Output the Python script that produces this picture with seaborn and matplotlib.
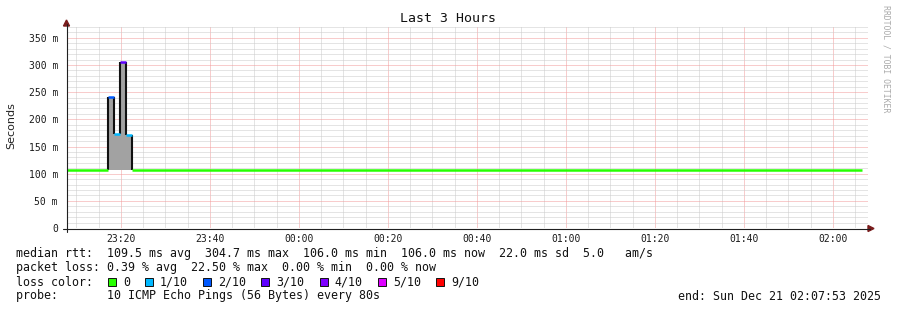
import matplotlib
matplotlib.use("Agg")
import matplotlib.pyplot as plt
from matplotlib.patches import Rectangle, Polygon
from matplotlib.lines import Line2D
from matplotlib.ticker import FixedLocator
import matplotlib.dates as mdates
import pandas as pd
import seaborn as sns

# ---------------- data ----------------
window = ["2025-12-20 23:07:53", "2025-12-21 02:07:53"]
# boundaries of the 80 s steps of the median rtt line
step_edges = ["2025-12-20 23:07:53", "2025-12-20 23:17:10", "2025-12-20 23:18:30",
              "2025-12-20 23:19:50", "2025-12-20 23:21:10", "2025-12-20 23:22:30",
              "2025-12-21 02:06:30"]
median_rtt_ms = [106.0, 242.0, 173.0, 304.7, 172.0, 106.0]
loss_of_ten = [0, 2, 1, 3, 1, 0]
smoke_low_ms = [106.0, 106.0, 106.0, 106.0, 106.0, 106.0]
smoke_high_ms = [106.0, 242.0, 173.0, 304.7, 172.0, 106.0]

loss_labels = ["0", "1/10", "2/10", "3/10", "4/10", "5/10", "9/10"]
loss_values = [0, 1, 2, 3, 4, 5, 9]
loss_colors = ["#26ff00", "#00b8ff", "#0059ff", "#5e00ff", "#7e00ff", "#dd00ff", "#ff0000"]

y_ticks = [0, 50, 100, 150, 200, 250, 300, 350]
y_tick_labels = ["0", "50 m", "100 m", "150 m", "200 m", "250 m", "300 m", "350 m"]
x_ticks = ["2025-12-20 23:20", "2025-12-20 23:40", "2025-12-21 00:00", "2025-12-21 00:20",
           "2025-12-21 00:40", "2025-12-21 01:00", "2025-12-21 01:20", "2025-12-21 01:40",
           "2025-12-21 02:00"]
x_tick_labels = ["23:20", "23:40", "00:00", "00:20", "00:40", "01:00", "01:20", "01:40", "02:00"]

title = "Last 3 Hours"
y_label = "Seconds"
rtt_line = "median rtt:  109.5 ms avg  304.7 ms max  106.0 ms min  106.0 ms now  22.0 ms sd  5.0   am/s"
loss_line = "packet loss: 0.39 % avg  22.50 % max  0.00 % min  0.00 % now"
probe_line = "probe:       10 ICMP Echo Pings (56 Bytes) every 80s"
end_text = "end: Sun Dec 21 02:07:53 2025"
watermark = "RRDTOOL / TOBI OETIKER"

# ---------------- layout ----------------
W, H = 897, 310
def fx(x):
    return x / W
def fy(y):
    return 1 - y / H

sns.set_style("white")
plt.rcParams["font.family"] = ["DejaVu Sans Mono"]
MONO = "DejaVu Sans Mono"

fig = plt.figure(figsize=(W / 100, H / 100), dpi=100)
ax = fig.add_axes([fx(67), fy(228), (868 - 67) / W, (228 - 27) / H])

edges = pd.to_datetime(step_edges)
color_of = dict(zip(loss_values, loss_colors))

# smoke (grey band)
for i in range(len(median_rtt_ms)):
    if smoke_high_ms[i] > smoke_low_ms[i]:
        ax.fill_between([edges[i], edges[i + 1]], smoke_low_ms[i], smoke_high_ms[i],
                        color="#a2a2a2", linewidth=0, zorder=2)

# black vertical step edges of the median line
vx, vlo, vhi = [], [], []
for i in range(1, len(median_rtt_ms)):
    a, b = median_rtt_ms[i - 1], median_rtt_ms[i]
    vx.append(edges[i]); vlo.append(min(a, b)); vhi.append(max(a, b))
ax.vlines(vx, vlo, vhi, colors="#111111", linewidth=1.5, zorder=3)

# median line, coloured by loss
rows = []
for i, (v, l) in enumerate(zip(median_rtt_ms, loss_of_ten)):
    rows.append({"time": edges[i], "rtt": v, "loss": l, "seg": i})
    rows.append({"time": edges[i + 1], "rtt": v, "loss": l, "seg": i})
df = pd.DataFrame(rows)
sns.lineplot(data=df, x="time", y="rtt", hue="loss", units="seg", estimator=None,
             palette=color_of, legend=False, linewidth=1.8, ax=ax, zorder=4,
             solid_capstyle="butt")

# axes, grid
t0, t1 = pd.to_datetime(window)
ax.set_xlim(t0, t1)
ax.set_ylim(0, 370)
xt = pd.to_datetime(x_ticks)
ax.set_xticks(xt)
ax.set_xticklabels(x_tick_labels)
ax.xaxis.set_minor_locator(mdates.MinuteLocator(byminute=[5, 10, 15, 25, 30, 35, 45, 50, 55]))
ax.set_yticks(y_ticks)
ax.set_yticklabels(y_tick_labels)
ax.yaxis.set_minor_locator(FixedLocator([v for v in range(10, 371, 10) if v % 50]))
ax.set_xlabel("")
ax.set_ylabel("")
ax.set_axisbelow(True)
ax.grid(which="minor", color="#cbcbcb", linestyle=(0, (1, 1)), linewidth=0.72)
ax.grid(which="major", color="#f29a9a", linestyle=(0, (1, 1)), linewidth=0.72)
for s in ax.spines.values():
    s.set_visible(False)
ax.tick_params(which="major", length=2, width=0.7, color="#e08080")
ax.tick_params(which="minor", length=0)
ax.tick_params(axis="y", which="major", pad=4.5, labelsize=7, labelcolor="#1a1a1a")
ax.tick_params(axis="x", which="major", pad=2.0, labelsize=7, labelcolor="#1a1a1a")
for lab in ax.get_xticklabels() + ax.get_yticklabels():
    lab.set_fontfamily(MONO)

# axis lines with arrows (drawn in figure pixels)
axis_col = "#202020"
arrow_col = "#7a1c1c"
fig.add_artist(Line2D([fx(66.5), fx(66.5)], [fy(232), fy(24)], color=axis_col, lw=0.8))
fig.add_artist(Line2D([fx(63), fx(870)], [fy(228.5), fy(228.5)], color=axis_col, lw=0.8))
fig.add_artist(Polygon([[fx(63.5), fy(26)], [fx(69.5), fy(26)], [fx(66.5), fy(20)]],
                       closed=True, color=arrow_col, transform=fig.transFigure))
fig.add_artist(Polygon([[fx(868), fy(225.5)], [fx(868), fy(231.5)], [fx(874), fy(228.5)]],
                       closed=True, color=arrow_col, transform=fig.transFigure))

# titles
fig.text(fx(448), fy(19), title, ha="center", va="center", fontsize=9.5, family=MONO,
         color="#111111")
fig.text(fx(11), fy(126), y_label, ha="center", va="center", rotation=90, fontsize=8,
         family="DejaVu Sans", color="#222222")
fig.text(fx(886), fy(59), watermark, ha="center", va="center", rotation=270, fontsize=5.9,
         family=MONO, color="#aaaaaa")

# legend block
LFS = 8.4
fig.text(fx(16), fy(254), rtt_line, ha="left", va="center", fontsize=LFS, family=MONO,
         color="#111111")
fig.text(fx(16), fy(268), loss_line, ha="left", va="center", fontsize=LFS, family=MONO,
         color="#111111")
fig.text(fx(16), fy(282), "loss color:", ha="left", va="center", fontsize=LFS, family=MONO,
         color="#111111")
bx = 108
for lab, col in zip(loss_labels, loss_colors):
    fig.add_artist(Rectangle((fx(bx), fy(286)), 8 / W, 8 / H, facecolor=col,
                             edgecolor="#111111", linewidth=0.7, transform=fig.transFigure))
    fig.text(fx(bx + 15), fy(282), lab, ha="left", va="center", fontsize=LFS, family=MONO,
             color="#111111")
    bx = bx + 15 + 7.05 * len(lab) + 15
fig.text(fx(16), fy(296), probe_line, ha="left", va="center", fontsize=LFS, family=MONO,
         color="#111111")
fig.text(fx(881), fy(296), end_text, ha="right", va="center", fontsize=LFS, family=MONO,
         color="#111111")

fig.savefig("out.png", dpi=100, facecolor="white")
